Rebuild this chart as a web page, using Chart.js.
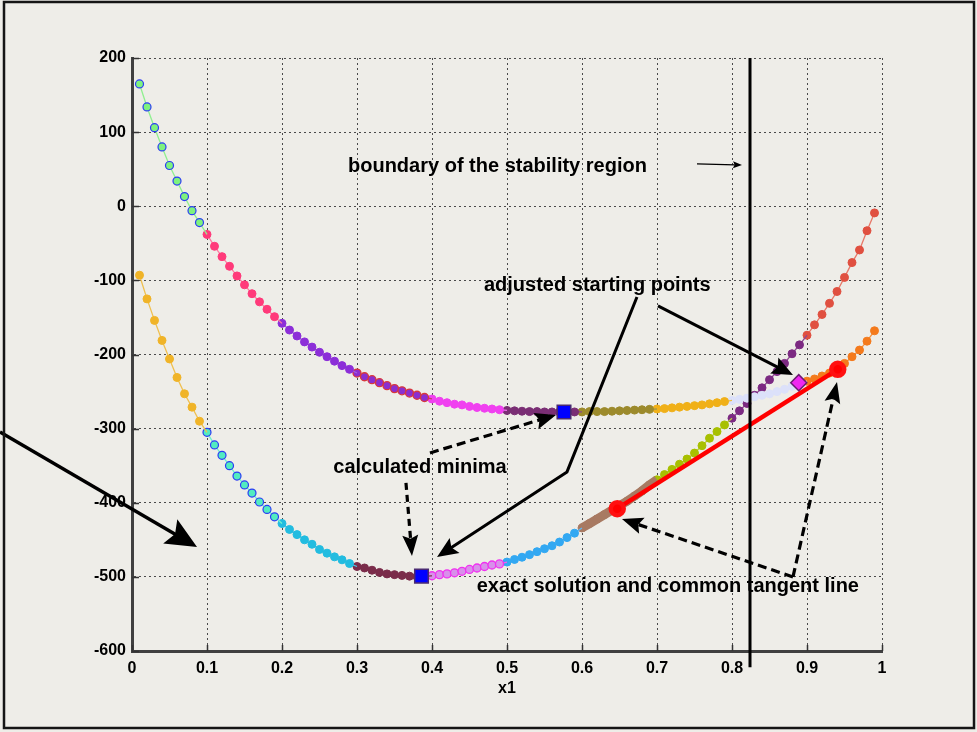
<!DOCTYPE html>
<html>
<head>
<meta charset="utf-8">
<script src="https://cdn.jsdelivr.net/npm/chart.js@4/dist/chart.umd.min.js"></script>
<style>
  html, body { margin: 0; padding: 0; background: #eeede8; }
  canvas { display: block; }
</style>
</head>
<body>
<canvas id="chart" width="977" height="732"></canvas>
<script>
// Composition grid x1 and the two free-energy curves sampled on it
const x1 = [0.01,0.02,0.03,0.04,0.05,0.06,0.07,0.08,0.09,
  0.10,0.11,0.12,0.13,0.14,0.15,0.16,0.17,0.18,0.19,
  0.20,0.21,0.22,0.23,0.24,0.25,0.26,0.27,0.28,0.29,
  0.30,0.31,0.32,0.33,0.34,0.35,0.36,0.37,0.38,0.39,
  0.40,0.41,0.42,0.43,0.44,0.45,0.46,0.47,0.48,0.49,
  0.50,0.51,0.52,0.53,0.54,0.55,0.56,0.57,0.58,0.59,
  0.60,0.61,0.62,0.63,0.64,0.65,0.66,0.67,0.68,0.69,
  0.70,0.71,0.72,0.73,0.74,0.75,0.76,0.77,0.78,0.79,
  0.80,0.81,0.82,0.83,0.84,0.85,0.86,0.87,0.88,0.89,
  0.90,0.91,0.92,0.93,0.94,0.95,0.96,0.97,0.98,0.99];

const upperG = [165,134,106,80,55,34,13,-6,-22,
  -38,-54,-68,-81,-94,-106,-118,-129,-139,-149,
  -158,-167,-175,-183,-190,-197,-203,-209,-215,-220,
  -225,-230,-234,-238,-242,-246,-249,-252,-255,-258,
  -260,-263,-265,-267,-268,-270,-271.5,-272.5,-273.5,-274.5,
  -275.5,-276,-276.5,-277,-277,-277.5,-277.5,-277.5,-277.5,-277.5,
  -277.5,-277,-277,-277,-276.5,-276,-275.5,-275,-274.5,-274,
  -273.5,-273,-272,-271,-270,-269,-268,-266.5,-265,-263.5,
  -262,-260.5,-259,-257,-255,-253,-250,-247,-243,-239,
  -236,-233,-229,-225,-220,-212,-203,-194,-182,-168];

const lowerG = [-93,-125,-154,-181,-206,-231,-253,-271,-290,
  -305,-322,-336,-350,-364,-376,-387,-399,-409,-419,
  -428,-436,-443,-450,-456,-463,-468,-473,-477,-482,
  -486,-488,-491,-494,-496,-497,-498,-499,-499.5,-499.5,
  -498.5,-497,-496,-494.5,-492.5,-490,-488,-486,-484,-482.5,
  -480,-476.5,-473.5,-470,-466,-462,-458,-453,-447,-441,
  -434,-428,-422,-416,-410,-404,-398,-391,-384,-376,
  -369,-362,-355,-348,-341,-333,-323,-313,-304,-295,
  -286,-276,-266,-255,-245,-234,-223,-212,-199,-187,
  -174,-160,-146,-131,-115,-96,-76,-59,-33,-9];

// Index where each coloured run of points starts (last entry = end)
const segmentBreaks = [0, 9, 19, 29, 39, 49, 59, 69, 79, 89, 99];

// Calculated minima, adjusted starting point, common tangent end points
const minimaX = [0.386, 0.576];
const minimaY = [-499, -277.5];
const startX = [0.889];
const startY = [-238];
const tangentX = [0.647, 0.941];
const tangentY = [-408, -220];
// Boundary of the stability region
const boundaryX = 0.824;
const boundaryY = [200, -622];

// Axis ticks
const xTicks = [0, 0.1, 0.2, 0.3, 0.4, 0.5, 0.6, 0.7, 0.8, 0.9, 1];
const xTickLabels = ['0', '0.1', '0.2', '0.3', '0.4', '0.5', '0.6', '0.7', '0.8', '0.9', '1'];
const yTicks = [200, 100, 0, -100, -200, -300, -400, -500, -600];
const yTickLabels = ['200', '100', '0', '-100', '-200', '-300', '-400', '-500', '-600'];

// Colours of each run of points
const upperStyles = [
  {fill: '#7ef27e', edge: '#2b3cf5', line: '#90f090', edgeW: 1.2},
  {fill: '#ff3a7a', line: '#ff7aa2'},
  {fill: '#8c2ed8', line: '#a060e0'},
  {fill: '#8a2ed0', edge: '#d8383c', line: '#c04060', edgeW: 1.3},
  {fill: '#f040f0', line: '#f070f0'},
  {fill: '#7a2e74', line: '#8a4a86'},
  {fill: '#9c8a2c', line: '#a89a48'},
  {fill: '#f0b018', line: '#f0c040'},
  {fill: '#dce1fa', line: '#e0e6fb'},
  {fill: '#f47a1c', line: '#f49040'}
];
const lowerStyles = [
  {fill: '#f0b428', line: '#f0c050'},
  {fill: '#52ecc0', edge: '#2b3cf5', line: '#70f0d0', edgeW: 1.2},
  {fill: '#22bce0', line: '#50c8e8'},
  {fill: '#7a2c4a', line: '#8a4460'},
  {fill: '#d890ea', edge: '#f030f0', line: '#f060f0', edgeW: 1.3},
  {fill: '#32a8f2', line: '#60b8f4'},
  {fill: '#a87a62', line: '#a87a62', width: 9},
  {fill: '#a8c000', line: '#b8cc40'},
  {fill: '#7c2a82', line: '#8e4a92'},
  {fill: '#e05040', line: '#e87868'}
];

const FONT = "'Liberation Sans', Arial, Helvetica, sans-serif";

// One dataset per coloured run; each run also reaches to the first point of
// the next run (without a marker) so the curve stays connected.
function runDatasets(values, styles, order) {
  return styles.map((st, k) => {
    const a = segmentBreaks[k], b = segmentBreaks[k + 1];
    const end = Math.min(b + 1, values.length);
    const own = b - a;
    const pts = [];
    for (let i = a; i < end; i++) pts.push({x: x1[i], y: values[i]});
    return {
      data: pts,
      showLine: true,
      borderColor: st.line,
      borderWidth: st.width || 1.3,
      pointRadius: c => (c.dataIndex < own ? 4 : 0),
      pointHoverRadius: c => (c.dataIndex < own ? 4 : 0),
      pointBackgroundColor: st.fill,
      pointBorderColor: st.edge || st.fill,
      pointBorderWidth: st.edgeW || 1,
      order: order
    };
  });
}

const datasets = [
  ...runDatasets(upperG, upperStyles, 10),
  ...runDatasets(lowerG, lowerStyles, 10),
  {
    // common tangent line
    data: tangentX.map((x, i) => ({x, y: tangentY[i]})),
    showLine: true,
    borderColor: '#ff0000',
    borderWidth: 4.5,
    pointRadius: 6.5,
    pointBackgroundColor: '#ff0000',
    pointBorderColor: '#ff1010',
    order: 3
  },
  {
    // calculated minima
    data: minimaX.map((x, i) => ({x, y: minimaY[i]})),
    showLine: false,
    pointStyle: 'rect',
    pointRadius: 9.6,
    pointBackgroundColor: '#0000ff',
    pointBorderColor: '#4a2a72',
    pointBorderWidth: 1.5,
    order: 2
  },
  {
    // adjusted starting point
    data: startX.map((x, i) => ({x, y: startY[i]})),
    showLine: false,
    pointStyle: 'rectRot',
    pointRadius: 8,
    pointBackgroundColor: '#f028f0',
    pointBorderColor: '#6a1a70',
    pointBorderWidth: 1.5,
    order: 2
  },
  {
    // stability boundary
    data: boundaryY.map(y => ({x: boundaryX, y})),
    showLine: true,
    borderColor: '#000000',
    borderWidth: 3,
    pointRadius: 0,
    clip: false,
    order: 1
  }
];

// Annotation texts (data coordinates, alphabetic baseline)
const notes = [
  {text: 'boundary of the stability region', x: 0.288, y: 46},
  {text: 'adjusted starting points', x: 0.4693, y: -114},
  {text: 'calculated minima', x: 0.2684, y: -360},
  {text: 'exact solution and common tangent line', x: 0.4596, y: -520}
];

// Annotation arrows (data coordinates, head at the last point)
const arrows = [
  {pts: [[0.7533, 57.1], [0.8133, 55.7]], width: 1.2, head: 9, half: 3.5},
  {pts: [[0.6733, -122.4], [0.58, -358.4], [0.4067, -473.1]], width: 3, head: 21, half: 9},
  {pts: [[0.7013, -134.5], [0.8813, -227.6]], width: 3, head: 21, half: 9},
  {pts: [[0.3973, -332.8], [0.5653, -281.6]], width: 3.2, head: 21, half: 8.5, dash: [9, 5]},
  {pts: [[0.3653, -373.3], [0.3733, -471.8]], width: 3.2, head: 21, half: 8, dash: [7, 5]},
  {pts: [[0.8813, -500.1], [0.6533, -421.9]], width: 3.2, head: 21, half: 8.5, dash: [9, 5]},
  {pts: [[0.8813, -500.1], [0.94, -237.0]], width: 3.2, head: 21, half: 8, dash: [9, 5]},
  {pts: [[-0.176, -304.5], [0.0867, -459.6]], width: 3.5, head: 31, half: 14}
];

function drawArrow(ctx, p, a) {
  const n = p.length;
  const [tx, ty] = p[n - 1];
  const [px, py] = p[n - 2];
  const ang = Math.atan2(ty - py, tx - px);
  const c = Math.cos(ang), s = Math.sin(ang);
  const L = a.head, W = a.half;
  ctx.save();
  ctx.strokeStyle = '#000';
  ctx.fillStyle = '#000';
  ctx.lineWidth = a.width;
  ctx.lineJoin = 'round';
  ctx.setLineDash(a.dash || []);
  ctx.beginPath();
  ctx.moveTo(p[0][0], p[0][1]);
  for (let i = 1; i < n - 1; i++) ctx.lineTo(p[i][0], p[i][1]);
  ctx.lineTo(tx - c * L * 0.8, ty - s * L * 0.8);
  ctx.stroke();
  ctx.setLineDash([]);
  ctx.beginPath();
  ctx.moveTo(tx, ty);
  ctx.lineTo(tx - c * L + s * W, ty - s * L - c * W);
  ctx.lineTo(tx - c * L * 0.82, ty - s * L * 0.82);
  ctx.lineTo(tx - c * L - s * W, ty - s * L + c * W);
  ctx.closePath();
  ctx.fill();
  ctx.restore();
}

const decorations = {
  id: 'decorations',
  beforeDraw(chart) {
    const {ctx, width, height} = chart;
    ctx.save();
    ctx.fillStyle = '#eeede8';
    ctx.fillRect(0, 0, width, height);
    ctx.restore();
  },
  beforeDatasetsDraw(chart) {
    // short inward tick marks on the left and bottom axes
    const {ctx, chartArea: ca, scales: {x, y}} = chart;
    ctx.save();
    ctx.strokeStyle = '#333';
    ctx.lineWidth = 1.5;
    ctx.beginPath();
    xTicks.forEach(v => {
      const px = Math.round(x.getPixelForValue(v)) + 0.5;
      ctx.moveTo(px, ca.bottom);
      ctx.lineTo(px, ca.bottom - 6);
    });
    yTicks.forEach(v => {
      const py = Math.round(y.getPixelForValue(v)) + 0.5;
      ctx.moveTo(ca.left, py);
      ctx.lineTo(ca.left + 7, py);
    });
    ctx.stroke();
    ctx.restore();
  },
  afterDatasetsDraw(chart) {
    const {ctx, scales: {x, y}} = chart;
    arrows.forEach(a => {
      const p = a.pts.map(([vx, vy]) => [x.getPixelForValue(vx), y.getPixelForValue(vy)]);
      drawArrow(ctx, p, a);
    });
    ctx.save();
    ctx.fillStyle = '#000';
    ctx.font = 'bold 20px ' + FONT;
    ctx.textAlign = 'left';
    ctx.textBaseline = 'alphabetic';
    notes.forEach(t => {
      ctx.fillText(t.text, x.getPixelForValue(t.x), y.getPixelForValue(t.y));
    });
    ctx.restore();
  },
  afterDraw(chart) {
    const {ctx} = chart;
    ctx.save();
    ctx.strokeStyle = '#151515';
    ctx.lineWidth = 2.5;
    ctx.strokeRect(4, 2, 970, 726);
    ctx.restore();
  }
};

const tickFont = {family: FONT, weight: 'bold', size: 16};

new Chart(document.getElementById('chart'), {
  type: 'scatter',
  data: {datasets},
  options: {
    responsive: false,
    animation: false,
    devicePixelRatio: 1,
    layout: {padding: {top: 58, right: 95, left: 0, bottom: 0}},
    plugins: {legend: {display: false}, tooltip: {enabled: false}},
    events: [],
    scales: {
      x: {
        type: 'linear',
        min: 0,
        max: 1,
        afterBuildTicks: s => { s.ticks = xTicks.map(v => ({value: v})); },
        afterFit: s => { s.height = 81; },
        ticks: {
          callback: (v, i) => xTickLabels[i],
          font: tickFont,
          color: '#000',
          padding: 8,
          maxRotation: 0,
          autoSkip: false
        },
        grid: {color: '#4a4a4a', lineWidth: 1, drawTicks: false},
        border: {display: true, color: '#404040', width: 3, dash: [2, 3]},
        title: {
          display: true,
          text: 'x1',
          color: '#000',
          font: {family: FONT, weight: 'bold', size: 16},
          padding: {top: 0, bottom: 34}
        }
      },
      y: {
        type: 'linear',
        min: -600,
        max: 200,
        afterBuildTicks: s => { s.ticks = yTicks.map(v => ({value: v})); },
        afterFit: s => { s.width = 132; },
        ticks: {
          callback: (v, i) => yTickLabels[i],
          font: tickFont,
          color: '#000',
          padding: 6,
          autoSkip: false
        },
        grid: {color: '#4a4a4a', lineWidth: 1, drawTicks: false},
        border: {display: true, color: '#404040', width: 3, dash: [2, 3]}
      }
    }
  },
  plugins: [decorations]
});
</script>
</body>
</html>
